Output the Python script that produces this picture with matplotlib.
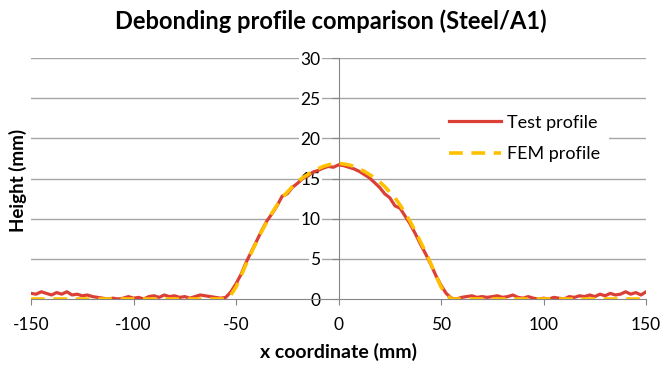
import numpy as np
import matplotlib.pyplot as plt

# Test profile (measured), every 2.5 mm from -150 to 150
test_x = np.arange(-150, 150.1, 2.5)
test_h = [
    0.7, 0.6, 0.9, 0.7, 0.5, 0.8, 0.6, 0.9, 0.5, 0.6,
    0.4, 0.5, 0.3, 0.2, 0.1, 0.0, 0.1, 0.0, 0.1, 0.3,
    0.1, 0.2, 0.0, 0.3, 0.4, 0.2, 0.5, 0.3, 0.4, 0.2,
    0.3, 0.1, 0.3, 0.5, 0.4, 0.3, 0.2, 0.1, 0.2, 0.9,
    1.9, 3.1, 4.6, 5.9, 7.2, 8.5, 9.7, 10.6, 11.6, 12.8,
    13.1, 13.9, 14.4, 15.0, 15.3, 15.8, 16.0, 16.3, 16.5, 16.4,
    16.7,
    16.6, 16.4, 16.2, 15.9, 15.5, 15.1, 14.5, 13.9, 13.1, 12.6,
    11.6, 11.3, 10.3, 9.3, 8.1, 6.8, 5.6, 4.3, 2.9, 1.7,
    0.7, 0.1, 0.0, 0.2, 0.3, 0.4, 0.2, 0.3, 0.2, 0.3,
    0.4, 0.2, 0.3, 0.5, 0.2, 0.1, 0.3, 0.1, 0.0, 0.1,
    0.0, 0.2, 0.1, 0.0, 0.3, 0.2, 0.4, 0.3, 0.5, 0.3,
    0.6, 0.4, 0.7, 0.5, 0.6, 0.9, 0.6, 0.8, 0.5, 0.9,
]

# FEM profile
fem_x = [-150, -57.5, -55, -52.5, -50, -47.5, -45, -42.5, -40, -37.5, -35,
         -32.5, -30, -27.5, -25, -22.5, -20, -17.5, -15, -12.5, -10,
         -7.5, -5, -2.5, 0, 2.5, 5, 7.5, 10, 12.5, 15, 17.5, 20, 22.5,
         25, 27.5, 30, 32.5, 35, 37.5, 40, 42.5, 45, 47.5, 50, 52.5, 55,
         57.5, 150]
fem_h = [0, 0, 0, 0.5, 1.5, 2.9, 4.4, 5.8, 7.1, 8.4, 9.6,
         10.7, 11.7, 12.6, 13.3, 14.0, 14.6, 15.1, 15.5, 15.9, 16.2,
         16.5, 16.7, 16.8, 16.9, 16.8, 16.7, 16.5, 16.2, 15.9, 15.5, 15.1, 14.6, 14.0,
         13.3, 12.6, 11.7, 10.7, 9.6, 8.4, 7.1, 5.8, 4.4, 2.9, 1.5, 0.5, 0,
         0, 0]

x_ticks = [-150, -100, -50, 0, 50, 100, 150]
y_ticks = [0, 5, 10, 15, 20, 25, 30]

plt.rcParams['font.family'] = ['Lato', 'DejaVu Sans']
plt.rcParams['axes.unicode_minus'] = False

fig = plt.figure(figsize=(6.62, 3.69), dpi=100)
ax = fig.add_axes([0.0468, 0.1897, 0.9292, 0.6531])

grid_c = '#a6a6a6'
for y in y_ticks[1:]:
    ax.axhline(y, color=grid_c, lw=1, zorder=0)

ax.plot(test_x, test_h, color='#dc3f36', lw=2.3, label='Test profile', zorder=3)
ax.plot(fem_x, fem_h, color='#ffc000', lw=2.6, dashes=(3.8, 2.4), label='FEM profile', zorder=4)

ax.set_xlim(-150, 150)
ax.set_ylim(0, 30)
ax.set_xticks(x_ticks)
ax.set_yticks(y_ticks)

for s in ['top', 'right']:
    ax.spines[s].set_visible(False)
ax.spines['left'].set_position(('data', 0))
ax.spines['left'].set_color('#868686')
ax.spines['bottom'].set_color('#868686')
ax.spines['left'].set_zorder(1)
ax.tick_params(axis='x', direction='out', length=4, color='#868686', labelsize=12.5, pad=9)
ax.tick_params(axis='y', direction='out', length=5, color='#868686', labelsize=12.5, pad=8)
for lab in ax.get_yticklabels():
    lab.set_bbox(dict(facecolor='white', edgecolor='none', pad=1))

fig.suptitle('Debonding profile comparison (Steel/A1)', fontsize=17, fontweight='bold',
             x=0.5, y=0.943, va='center')
fig.text(0.511, 0.046, 'x coordinate (mm)', fontsize=14, fontweight='bold',
         ha='center', va='center')
fig.text(0.027, 0.51, 'Height (mm)', rotation=90, fontsize=13.5, fontweight='bold',
         ha='center', va='center')

leg = ax.legend(loc='upper left', bbox_to_anchor=(0.65, 0.84), frameon=True,
                fontsize=13, handlelength=2.9, handletextpad=0.3, labelspacing=0.85,
                borderpad=0.5)
leg.get_frame().set_facecolor('white')
leg.get_frame().set_edgecolor('none')
leg.get_frame().set_alpha(1)

fig.savefig('out.png', dpi=100)
